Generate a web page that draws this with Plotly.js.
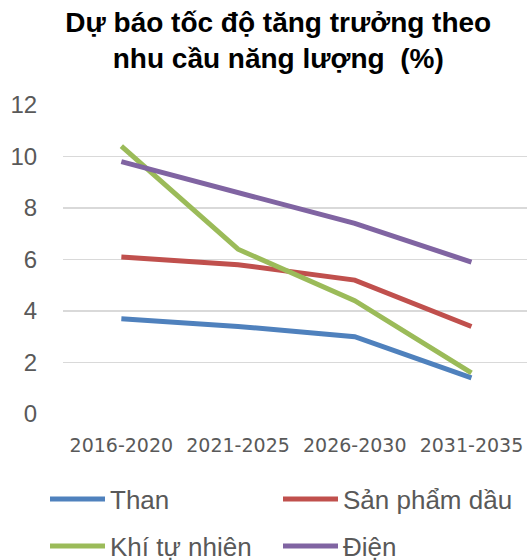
<!DOCTYPE html>
<html>
<head>
<meta charset="utf-8">
<script src="https://cdn.plot.ly/plotly-3.0.1.min.js"></script>
<style>html,body{margin:0;padding:0;background:#fff;}#chart{width:527px;height:560px;}</style>
</head>
<body>
<div id="chart"></div>
<script>
var categories = ["2016-2020", "2021-2025", "2026-2030", "2031-2035"];
var than = [3.7, 3.4, 3.0, 1.4];
var sanPhamDau = [6.1, 5.8, 5.2, 3.4];
var khiTuNhien = [10.4, 6.4, 4.4, 1.6];
var dien = [9.8, 8.6, 7.4, 5.9];
var yTicks = [0, 2, 4, 6, 8, 10, 12];

function tr(name, y, color, legend) {
  return {
    type: "scatter", mode: "lines", name: name, x: categories, y: y,
    line: {color: color, width: 5}, legend: legend, hoverinfo: "x+y+name"
  };
}

var data = [
  tr("Than", than, "#4F81BD", "legend"),
  tr("Sản phẩm dầu", sanPhamDau, "#C0504D", "legend2"),
  tr("Khí tự nhiên", khiTuNhien, "#9BBB59", "legend3"),
  tr("Điện", dien, "#8064A2", "legend4")
];

var legendBase = {
  orientation: "h", xref: "container", yref: "container",
  xanchor: "left", yanchor: "middle",
  font: {family: "Liberation Sans, Arial, sans-serif", size: 26, color: "#595959"},
  itemwidth: 55,
  bgcolor: "rgba(0,0,0,0)", borderwidth: 0
};
function lg(px, py) {
  return Object.assign({}, legendBase, {x: px/527, y: 1 - py/560});
}

var layout = {
  width: 527, height: 560,
  margin: {l: 63, r: 0, t: 105, b: 146},
  paper_bgcolor: "#fff", plot_bgcolor: "#fff",
  title: {
    text: "Dự báo tốc độ tăng trưởng theo<br>nhu cầu năng lượng  (%)",
    font: {family: "Liberation Sans, Arial, sans-serif", size: 28, color: "#000", weight: "bold"},
    xref: "container", x: 0.528, xanchor: "center",
    yref: "container", y: 1 - 32/560, yanchor: "top"
  },
  xaxis: {
    type: "category", range: [-0.5, 3.476],
    showgrid: false, zeroline: false, showline: false,
    ticks: "outside", ticklen: 14, tickcolor: "rgba(0,0,0,0)",
    tickfont: {family: "DejaVu Sans, sans-serif", size: 19, color: "#595959"}
  },
  yaxis: {
    range: [0, 12], tickvals: yTicks, ticktext: yTicks.map(String),
    showgrid: true, gridcolor: "#D9D9D9", gridwidth: 1.5,
    zeroline: false, showline: false,
    ticks: "outside", ticklen: 20, tickcolor: "rgba(0,0,0,0)",
    tickfont: {family: "Liberation Sans, Arial, sans-serif", size: 24, color: "#595959"}
  },
  legend: lg(45, 499),
  legend2: lg(278, 499),
  legend3: lg(45, 546),
  legend4: lg(278, 546),
  showlegend: true
};

Plotly.newPlot("chart", data, layout, {displayModeBar: false, staticPlot: true});
</script>
</body>
</html>
